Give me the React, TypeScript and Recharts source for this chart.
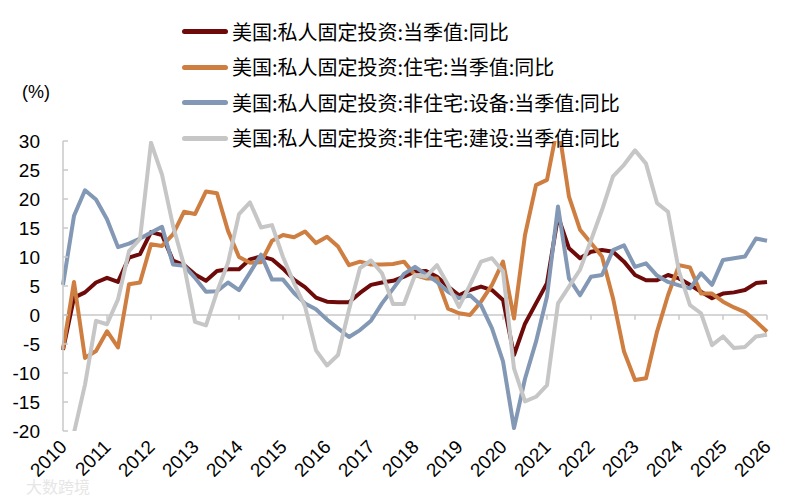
import { LineChart, Line, XAxis, YAxis, ReferenceLine, Legend } from 'recharts';

// quarterly, 2010Q1 .. 2026Q1
const quarters: string[] = [];
for (let y = 2010; y <= 2026; y++) {
  for (let q = 1; q <= 4; q++) {
    if (y === 2026 && q > 1) break;
    quarters.push(`${y}Q${q}`);
  }
}

const years = [2010, 2011, 2012, 2013, 2014, 2015, 2016, 2017, 2018, 2019, 2020, 2021, 2022, 2023, 2024, 2025, 2026];
const yTicks = [-20, -15, -10, -5, 0, 5, 10, 15, 20, 25, 30];

const seriesNames = [
  '美国:私人固定投资:当季值:同比',
  '美国:私人固定投资:住宅:当季值:同比',
  '美国:私人固定投资:非住宅:设备:当季值:同比',
  '美国:私人固定投资:非住宅:建设:当季值:同比',
];

const total = [
  -6.0, 3.0, 3.9, 5.6, 6.4, 5.7, 9.9, 10.5, 14.3, 13.8,
  9.4, 8.6, 7.0, 5.9, 7.6, 7.9, 7.9, 9.6, 10.1, 9.6,
  8.0, 6.1, 4.8, 3.0, 2.3, 2.2, 2.2, 3.8, 5.2, 5.6,
  5.9, 6.6, 7.5, 7.6, 6.6, 4.9, 3.4, 4.3, 4.9, 4.3,
  2.6, -6.9, -1.5, 2.0, 5.5, 17.0, 11.5, 9.8, 10.9, 11.2,
  10.9, 9.2, 6.9, 6.0, 6.0, 6.9, 6.3, 5.2, 4.0, 2.9,
  3.7, 3.9, 4.3, 5.5, 5.7,
];

const residential = [
  -5.9, 5.7, -7.4, -6.2, -2.8, -5.6, 5.3, 5.6, 12.2, 11.9,
  13.9, 17.8, 17.4, 21.3, 21.0, 14.5, 10.0, 9.0, 9.1, 12.8,
  13.8, 13.4, 14.4, 12.4, 13.5, 11.8, 8.6, 9.2, 8.7, 8.7,
  8.8, 9.2, 6.9, 6.3, 6.3, 1.1, 0.3, 0.0, 2.3, 5.2,
  9.2, -0.6, 13.8, 22.4, 23.3, 33.0, 20.4, 14.7, 12.4, 10.1,
  2.9, -6.3, -11.2, -10.9, -2.9, 3.4, 8.6, 8.2, 3.7, 3.7,
  2.3, 1.3, 0.5, -1.1, -2.9,
];

const equipment = [
  5.2, 17.1, 21.5, 19.9, 16.5, 11.7, 12.3, 13.2, 14.2, 15.2,
  8.7, 8.5, 6.4, 4.0, 4.1, 5.6, 4.3, 7.3, 10.4, 6.1,
  6.1, 3.8, 2.0, 1.0, -0.8, -2.3, -3.8, -2.6, -1.0, 2.0,
  4.5, 7.1, 8.3, 7.0, 5.7, 4.0, 2.9, 3.4, 1.7, -2.3,
  -8.0, -19.5, -11.0, -4.6, 3.2, 18.7, 6.3, 3.4, 6.6, 6.9,
  11.2, 12.0, 8.3, 8.9, 6.8, 5.7, 5.1, 4.6, 7.2, 5.2,
  9.5, 9.8, 10.1, 13.2, 12.8,
];

const structures = [
  -26.0, -20.3, -12.0, -1.0, -1.6, 2.7, 11.0, 13.1, 29.7, 24.2,
  15.4, 8.6, -1.2, -1.8, 4.0, 9.0, 17.4, 19.4, 15.1, 15.5,
  10.0, 5.5, 1.5, -6.1, -8.7, -6.9, 0.9, 8.1, 9.4, 7.2,
  1.9, 1.9, 6.9, 6.6, 8.6, 5.2, 1.4, 5.2, 9.2, 9.8,
  7.5, -9.2, -14.9, -14.1, -12.1, 2.0, 4.9, 7.8, 12.9, 18.1,
  23.9, 25.9, 28.4, 26.1, 19.3, 17.8, 7.5, 1.7, 0.3, -5.2,
  -3.7, -5.7, -5.5, -3.7, -3.4,
];

const rows = quarters.map((q, i) => ({
  t: Number(q.slice(0, 4)) + (Number(q.slice(5)) - 1) / 4,
  total: total[i],
  residential: residential[i],
  equipment: equipment[i],
  structures: structures[i],
}));

const axisGray = '#c8c8c8';
const latin = '"Liberation Sans", Arial, sans-serif';

function YearTick({ x, y, payload }: any) {
  const ax = x + 5;
  const ay = y + 17;
  return (
    <text x={ax} y={ay} transform={`rotate(-45 ${ax} ${ay})`} textAnchor="end"
      fontSize={19} fontFamily={latin} fill="#000">
      {payload.value}
    </text>
  );
}

function LegendList({ payload }: any) {
  const items = [...(payload || [])].sort(
    (a: any, b: any) => seriesNames.indexOf(a.value) - seriesNames.indexOf(b.value),
  );
  return (
    <div>
      {items.map((entry: any) => (
        <div key={entry.value} style={{ display: 'flex', alignItems: 'center', height: 35.5 }}>
          <span style={{ display: 'inline-block', width: 46, height: 5, borderRadius: 3, background: entry.color, marginRight: 4 }} />
          <span style={{ fontSize: 20, lineHeight: 1, color: '#000', fontFamily: '"Noto Sans CJK SC", sans-serif' }}>
            {entry.value}
          </span>
        </div>
      ))}
    </div>
  );
}

export default function App() {
  return (
    <div style={{ position: 'absolute', left: 0, top: 0, width: 796, height: 500, background: '#fff' }}>
      <LineChart width={796} height={500} data={rows} margin={{ top: 141, right: 29, bottom: 9, left: 0 }}>
        <XAxis dataKey="t" type="number" domain={[2010, 2026]} ticks={years} interval={0}
          axisLine={false} tickLine={false} tickSize={0} tickMargin={0} height={60} tick={<YearTick />} />
        <YAxis domain={[-20, 30]} ticks={yTicks} allowDataOverflow width={63}
          axisLine={{ stroke: axisGray, strokeWidth: 1.5 }} tickLine={{ stroke: axisGray, strokeWidth: 1.5 }}
          tickSize={-5} tickMargin={28}
          tick={{ fontSize: 19, fontFamily: latin, fill: '#000' }} />
        <ReferenceLine y={0} stroke={axisGray} strokeWidth={1.5} />
        {years.map((yr) => (
          <ReferenceLine key={yr} segment={[{ x: yr, y: 0 }, { x: yr, y: -0.8 }]} stroke={axisGray} strokeWidth={1.5} />
        ))}
        <Legend layout="vertical" align="center" verticalAlign="middle"
          wrapperStyle={{ position: 'absolute', top: 14, left: 182, width: 470 }} content={<LegendList />} />
        <Line type="linear" dataKey="total" name={seriesNames[0]} stroke="#6e0a0a"
          strokeWidth={4} dot={false} isAnimationActive={false} strokeLinejoin="round" />
        <Line type="linear" dataKey="residential" name={seriesNames[1]} stroke="#cf7e41"
          strokeWidth={4} dot={false} isAnimationActive={false} strokeLinejoin="round" />
        <Line type="linear" dataKey="equipment" name={seriesNames[2]} stroke="#8398b4"
          strokeWidth={4} dot={false} isAnimationActive={false} strokeLinejoin="round" />
        <Line type="linear" dataKey="structures" name={seriesNames[3]} stroke="#c6c6c6"
          strokeWidth={4} dot={false} isAnimationActive={false} strokeLinejoin="round" />
      </LineChart>
      <div style={{ position: 'absolute', left: 22, top: 83, fontSize: 18, lineHeight: 1, fontFamily: latin }}>(%)</div>
      <div style={{ position: 'absolute', left: 26, top: 478, fontSize: 16, lineHeight: 1, color: '#e6e6e6', fontFamily: '"Noto Sans CJK SC", sans-serif' }}>大数跨境</div>
    </div>
  );
}
